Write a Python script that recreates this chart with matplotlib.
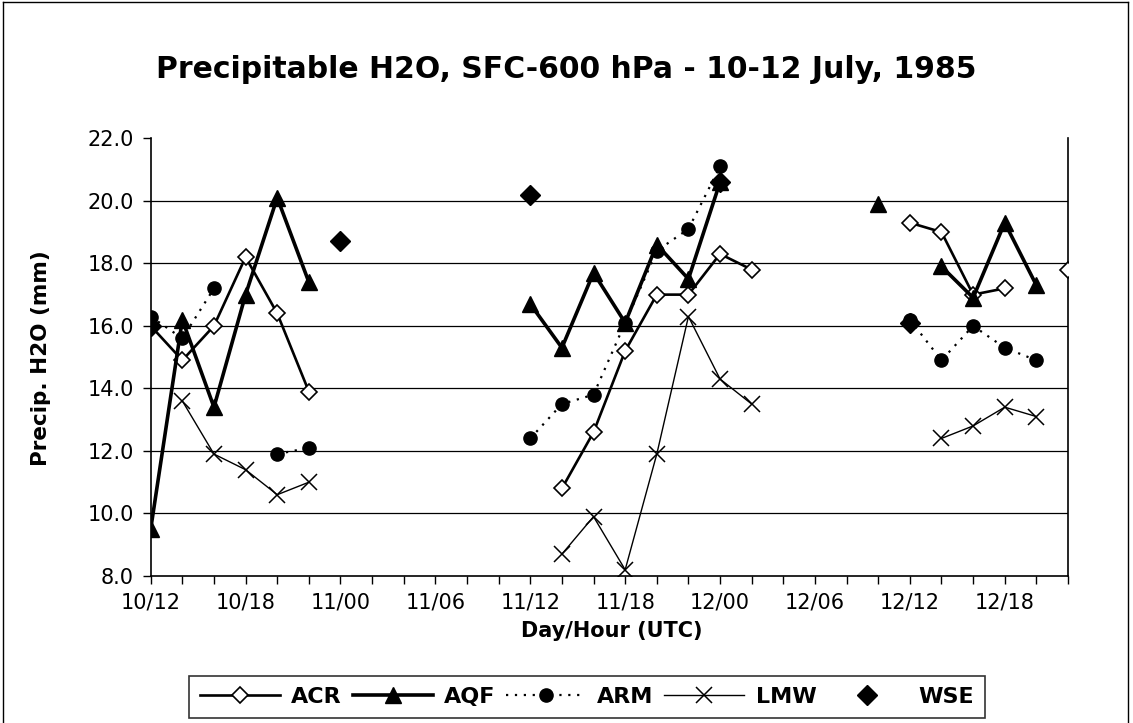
import numpy as np
import matplotlib
matplotlib.use("Agg")
import matplotlib.pyplot as plt
from matplotlib.lines import Line2D
from matplotlib.ticker import FixedLocator, NullFormatter

plt.rcParams["font.family"] = ["DejaVu Sans"]

# 2-hourly categories, hours after 10 July 12 UTC
hours = list(range(0, 60, 2))
tick_hours = [0, 6, 12, 18, 24, 30, 36, 42, 48, 54]
tick_labels = ["10/12", "10/18", "11/00", "11/06", "11/12",
               "11/18", "12/00", "12/06", "12/12", "12/18"]
y_ticks = [8.0, 10.0, 12.0, 14.0, 16.0, 18.0, 20.0, 22.0]

nan = np.nan
acr = [16.0, 14.9, 16.0, 18.2, 16.4, 13.9,
       nan, nan, nan, nan, nan, nan, nan,
       10.8, 12.6, 15.2, 17.0, 17.0, 18.3, 17.8,
       nan, nan, nan, nan,
       19.3, 19.0, 17.0, 17.2, nan, 17.8]
aqf = [9.5, 16.2, 13.4, 17.0, 20.1, 17.4,
       nan, nan, nan, nan, nan, nan,
       16.7, 15.3, 17.7, 16.1, 18.6, 17.5, 20.6,
       nan, nan, nan, nan,
       19.9, nan, 17.9, 16.9, 19.3, 17.3, nan]
arm = [16.3, 15.6, 17.2, nan, 11.9, 12.1,
       nan, nan, nan, nan, nan, nan,
       12.4, 13.5, 13.8, 16.1, 18.4, 19.1, 21.1,
       nan, nan, nan, nan, nan,
       16.2, 14.9, 16.0, 15.3, 14.9, nan]
lmw = [nan, 13.6, 11.9, 11.4, 10.6, 11.0,
       nan, nan, nan, nan, nan, nan, nan,
       8.7, 9.9, 8.2, 11.9, 16.3, 14.3, 13.5,
       nan, nan, nan, nan, nan,
       12.4, 12.8, 13.4, 13.1, nan]
wse = [16.0, nan, nan, nan, nan, nan,
       18.7, nan, nan, nan, nan, nan,
       20.2, nan, nan, nan, nan, nan,
       20.6, nan, nan, nan, nan, nan,
       16.1, nan, nan, nan, nan, nan]

W, H = 1133, 723
fig = plt.figure(figsize=(W / 100, H / 100), dpi=100)
ax = fig.add_axes([150.7 / W, 1 - 576 / H, (1068 - 150.7) / W, (576 - 138.3) / H])

for y in y_ticks[1:-1]:
    ax.axhline(y, color="black", lw=0.9, zorder=1)

ax.plot(hours, acr, color="black", lw=1.9, marker="D", ms=8.5,
        mfc="white", mec="black", mew=1.2, label="ACR", zorder=3)
ax.plot(hours, aqf, color="black", lw=2.6, marker="^", ms=12,
        mfc="black", mec="black", label="AQF", zorder=4)
ax.plot(hours, arm, color="black", lw=1.6, ls=(0, (1, 3)), marker="o", ms=9.5,
        mfc="black", mec="black", label="ARM", zorder=5)
ax.plot(hours, lmw, color="black", lw=1.0, marker="x", ms=11,
        mec="black", mew=1.1, label="LMW", zorder=6)
ax.plot(hours, wse, ls="none", marker="D", ms=10,
        mfc="black", mec="black", label="WSE", zorder=7)

ax.set_xlim(0, 58)
ax.set_ylim(8, 22)
ax.xaxis.set_major_locator(FixedLocator(tick_hours))
ax.set_xticklabels(tick_labels)
ax.xaxis.set_minor_locator(FixedLocator(hours))
ax.xaxis.set_minor_formatter(NullFormatter())
ax.set_yticks(y_ticks)
ax.set_yticklabels([f"{v:.1f}" for v in y_ticks])
ax.tick_params(axis="both", which="both", direction="out", length=6,
               width=1.0, color="black", labelsize=15, pad=6)

for side in ("left", "bottom", "right"):
    ax.spines[side].set_color("black")
    ax.spines[side].set_linewidth(1.2)
ax.spines["top"].set_visible(False)

fig.text(566 / W, 1 - 70 / H, "Precipitable H2O, SFC-600 hPa - 10-12 July, 1985",
         ha="center", va="center", fontsize=21.5, fontweight="bold")
fig.text(41 / W, 1 - 358 / H, "Precip. H2O (mm)", rotation=90,
         ha="center", va="center", fontsize=15.5, fontweight="bold")
fig.text(612 / W, 1 - 631 / H, "Day/Hour (UTC)",
         ha="center", va="center", fontsize=15, fontweight="bold")

leg = fig.legend(loc="lower left", mode="expand", ncol=5,
                 bbox_to_anchor=(189 / W, 1 - 718 / H, (985 - 189) / W, 40 / H),
                 prop={"weight": "bold", "size": 16}, frameon=True,
                 fancybox=False, handlelength=3.6, handletextpad=0.5,
                 borderpad=0.5, borderaxespad=0.0, columnspacing=1.0)
leg.get_frame().set_edgecolor("black")
leg.get_frame().set_linewidth(1.2)

# outer chart border
for xs, ys in (([3, 3], [723, 2]), ([3, 1128], [2, 2]), ([1128, 1128], [2, 723])):
    fig.add_artist(Line2D([x / W for x in xs], [1 - y / H for y in ys],
                          color="black", lw=1.0))

fig.savefig("out.png", dpi=100)
